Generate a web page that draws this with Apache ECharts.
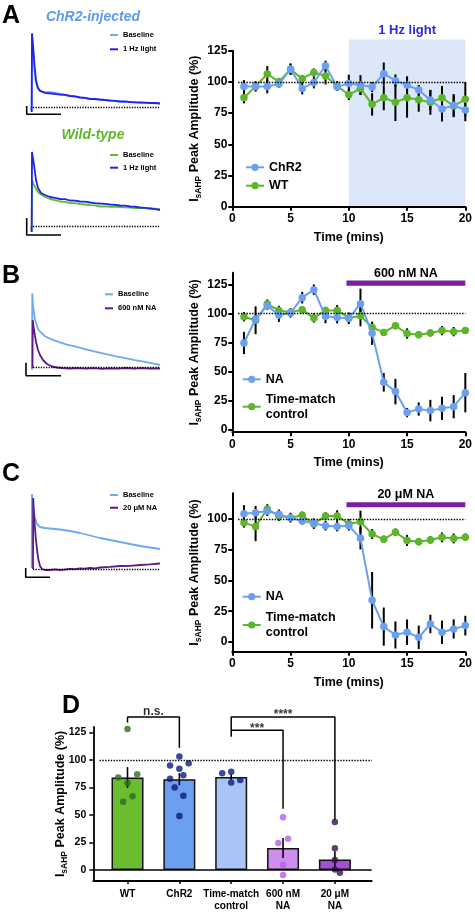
<!DOCTYPE html>
<html><head><meta charset="utf-8">
<script src="https://cdn.jsdelivr.net/npm/echarts@6/dist/echarts.min.js"></script>
<style>html,body{margin:0;padding:0;background:#fff}#c{width:475px;height:912px}</style>
</head><body><div id="c"></div>
<script>
// ================= DATA =================
const minutes = [1,2,3,4,5,6,7,8,9,10,11,12,13,14,15,16,17,18,19,20];
const xTicksTime = [0,5,10,15,20];
const yTicksTime = [0,25,50,75,100,125];
const yTicksC = [0,25,50,75,100];

// Panel A (1 Hz light)
const chr2Mean = [96.4,96.4,96.4,98.3,110.3,94.8,99.6,113,95.9,98.8,97.5,95.9,106.6,101,97.5,93.5,85.5,78.3,81.2,77.5];
const chr2Sem  = [5,4,5.5,3,4.5,4.8,4.8,4,3,7,8,4,9,5,7,4,8,10,9,9];
const wtMean   = [87.3,96.4,106.3,100.2,110,102.6,107.6,104.7,96.7,89.7,94.8,82,87.3,83.6,87.3,85.7,83.6,87.3,80.7,86];
const wtSem    = [4.5,4,6.4,3,4.5,3,3.2,6.7,4,4.3,5.3,9,10,15,16,9.6,10,9.4,9,14];

// Panel B (600 nM NA) and C (20 uM NA)
const na600Mean = [74.4,95.1,106.6,98.6,100.3,113.5,120.4,97.4,96.3,95.7,108.3,82.8,40.5,32.5,14.4,17.5,16.1,18.1,19.5,31.6];
const na600Sem  = [9.6,4,3.6,6,4,5,4.5,6,5,5,13,10,8,11,4,5.7,9.3,10,10,17];
const na20Mean  = [104.3,105.1,106.5,103.8,101.1,98.4,96.5,94.6,94,94.6,84.3,33.9,12.5,5.7,7.9,3.8,14.6,7.9,10.6,13.3];
const na20Sem   = [7,5.5,4,4,4,3,4,4,4,4,9,23,15.5,11,10.4,9.5,7.5,9.5,7.8,8];
const controlMean = [97,94,108,102.5,101,103,96,102.5,102.5,96,97.8,87.8,83.5,89.3,82.6,81.6,83,85.1,84.2,85.2];
const controlSem  = [4,12,4,4,3,3,4,3,4.6,4,9,4,3,3,4.5,3,3,4,4,3];

// Treatment periods [start, end, level]
const lightPeriod = [10, 20, 134];
const na600Period = [9.8, 20, 126];
const na20Period  = [9.8, 20, 111.6];

// Panel D summary
const groups = ['WT','ChR2','Time-match\ncontrol','600 nM\nNA','20 μM\nNA'];
const groupMeans = [84, 82.5, 84.5, 20, 9.5];
const groupSems  = [9.5, 5.5, 2.5, 9, 7.5];
const wtCells   = [128, 84, 87, 79, 62, 67];
const chr2Cells = [103, 95, 92, 97, 83, 86, 75, 67.5, 49];
const tmCells   = [88, 89.3, 79.5, 81.8];
const na600Cells= [48, 24.5, 28.4, 4.8, -4.5];
const na20Cells = [43.6, 19.7, 9, 0.5, -2.5, -10.5];
const yTicksD = [0,25,50,75,100,125];
// significance brackets (group index, % level)
const bracketNS   = [[0,134],[0,139],[1,139],[1,111]];
const bracket4    = [[2,121],[2,139],[4,139],[4,45.7]];
const bracket3    = [[2,127],[3,127],[3,55.6]];
const sigLabels   = [['n.s.',0.5,139],['****',3,139],['***',2.5,127]];

// Example traces (time in sweep units, current relative to baseline)
const tA1 = [-0.6,-0.3,0,1,2.5,4,6,8,10,13,16,20,24,28,33,38,43,48,53,58,63,68,73,78,83,88,93,98,103,108,113,118,123,128];
const a1Light    = [0,-4.7,74,62,42,27,19.5,16.5,15.5,14.5,14,13.8,13.2,12.8,12.4,11.3,10.9,9.8,9.4,8.3,8.5,7.8,7.3,6.8,6.4,5.8,5.9,5.3,5,4.8,4.6,4.3,4.4,3.8];
const a1Baseline = [0,-4.7,73,59,37,24,18,16,15.5,15,15.3,15,14.5,13.5,12.5,11.5,10.8,10,9.3,8.5,8,7.5,7.2,6.6,6.2,5.8,5.5,5.2,4.9,4.7,4.4,4.2,4,3.8];
const tA2 = [-0.6,-0.3,0,1,2,4,6,9,13,18,23,28,33,38,43,48,53,58,63,68,73,78,83,88,93,98,103,108,113,118,123,128];
const a2Light    = [0,-5.3,74.7,68,61.7,46.7,38.7,33.7,31.7,29.7,28.9,27.7,27.5,26.2,26,25.2,25,24.2,23.6,23.2,22.9,22.2,21.8,21.2,21,20.2,20,19.2,18.8,18.2,17.5,16.7];
const a2Baseline = [0,-5.3,46.7,44,41.7,37.7,34.7,32.2,29.7,27.7,26.5,25.2,24.8,23.7,23.5,22.7,22.2,21.5,21.3,20.2,20.4,19.8,20,19.7,19.3,19.1,18.7,18.9,18.5,18.4,18,17.6];
const tB = [0,0.3,1,3,6,8,13,18,23,28,35,43,53,63,73,83,93,103,113,123,128];
const bBaseline = [-2.3,74.4,62,48,39,36,31.5,29,27,25.3,23,21.3,18.5,16,13.8,11.5,9.5,7.6,5.8,3.8,2.7];
const tBna = [0.5,0.7,2,4,6,8,11,15,20,25,30,38,46,54,62,70,78,86,94,102,110,118,126,128];
const bNA = [-0.3,47.7,37.7,25.7,17.7,12.7,7.7,3.7,1.2,0.2,-0.3,-0.8,-0.4,-1,-0.5,-1.1,-0.6,-0.9,-0.3,-1,-0.5,-0.9,-0.6,-0.8];
const tC = [-0.3,0,1,3,5,8,13,18,28,38,48,58,68,78,88,98,108,118,128];
const cBaseline = [1,75,64,51,45,42,41,40.5,39.5,38,36,33.5,31,29,27,25,23,21.5,20];
const tCna = [1,1.2,2,3.5,5,6.5,8,10,13,18,23,28,33,38,43,48,53,58,63,68,78,88,98,108,118,128];
const cNA = [0,71,54,34,19,9,3,0,-1,-1,-0.3,-1,-0.5,0.2,-0.2,0.5,0.3,1,0.6,1.5,2.2,3,3.2,4,4.6,5.5];
// scale bars (trace units)
const scaleA1 = [[29,-7],[-5.3,-7],[-5.3,1.3]];
const scaleA2 = [[29,-8.3],[-5.3,-8.3],[-5.3,8.7]];
const scaleB  = [[29,-8],[-6,-8],[-6,5]];
const scaleC  = [[18,-8.3],[-6.3,-8.3],[-6.3,1]];

// ================= STYLE / LAYOUT =================
const F = 'Liberation Sans, Arial, Helvetica, sans-serif';
const C_BLUE = '#6b9ff2', C_GREEN = '#5db52a';
const C_TR_LIGHT = '#6ea8f7', C_TR_DARK = '#2222ee', C_TR_GREEN = '#5fbd2c', C_TR_PURPLE = '#5a1a8c';
const C_PBAR = '#7b1fa2', C_SHADE = '#dce8fa';
const barColors = ['#6cbd2e','#6b9ff0','#a8c5f5','#d08df0','#a24fd4'];
const dotColors = ['#2f6b1f','#0b1a80','#0b1a80','#b45fe6','#3a0f50'];
const jitter = [[0,-9.3,9.7,0,-4.3,5],[0,-9.3,0,9.3,-9.3,4,-4.7,4,0],[-9,0,0,9],[0,-4.7,5,0,0],[0,0,0,0,5,-4.3]];

const zip = (t, v) => t.map((x, i) => [x, v[i]]);

const grids = [
  {left:24, top:28.3, width:140, height:88},
  {left:24, top:147.7, width:140, height:89},
  {left:24, top:288.7, width:140, height:89},
  {left:24, top:490, width:140, height:89},
  {left:232.3, top:50.7, width:235, height:156},
  {left:232.3, top:272.7, width:235, height:159.5},
  {left:232.3, top:493.2, width:235, height:158.6},
  {left:93.3, top:726.9, width:278.4, height:156.3}
];

const hiddenAxis = (gi, min, max) => ({gridIndex:gi, type:'value', min, max, show:false, splitLine:{show:false}});
const traceY = [[-9,79],[-10,79],[-10,79],[-10,79]];

const boldTxt = (size) => ({fontFamily:F, fontSize:size, fontWeight:'bold', color:'#000'});
const yName = 'I{s|sAHP} Peak Amplitude (%)';
const yNameStyle = (size, sub) => Object.assign(boldTxt(size), {lineHeight:18, rich:{s:Object.assign(boldTxt(sub), {lineHeight:9, verticalAlign:'bottom'})}});

function timeX(gi) {
  return {gridIndex:gi, type:'value', min:0, max:20, interval:5,
    axisLine:{onZero:false, lineStyle:{color:'#000', width:2}},
    axisTick:{length:4, lineStyle:{color:'#000', width:2}},
    axisLabel:Object.assign({margin:6}, boldTxt(12)),
    splitLine:{show:false},
    name:'Time (mins)', nameLocation:'middle', nameGap:24, nameTextStyle:boldTxt(12.5)};
}
function timeY(gi, min, max, ticks) {
  return {gridIndex:gi, type:'value', min, max,
    axisLine:{show:true, onZero:false, lineStyle:{color:'#000', width:2}},
    axisTick:{show:true, customValues:ticks, length:4, lineStyle:{color:'#000', width:2}},
    axisLabel:Object.assign({customValues:ticks, margin:5}, boldTxt(12)),
    splitLine:{show:false},
    name:yName, nameLocation:'middle', nameGap:25, nameTextStyle:yNameStyle(12.5, 8.5)};
}

const xAxes = [hiddenAxis(0,-8,132), hiddenAxis(1,-8,132), hiddenAxis(2,-8,132), hiddenAxis(3,-8,132),
  timeX(4), timeX(5), timeX(6),
  {gridIndex:7, type:'value', min:-0.66, max:4.71,
    axisLine:{onZero:false, lineStyle:{color:'#000', width:1.8}},
    axisTick:{show:true, customValues:[0,1,2,3,4], length:3, lineStyle:{color:'#000', width:1.5}},
    axisLabel:Object.assign({customValues:[0,1,2,3,4], margin:7, lineHeight:12,
      formatter:(v)=>groups[Math.round(v)]}, boldTxt(10)),
    splitLine:{show:false}}];
const yAxes = traceY.map((r,i)=>hiddenAxis(i, r[0], r[1])).concat([
  timeY(4, 0, 125, yTicksTime), timeY(5, -2.5, 135, yTicksTime), timeY(6, -8, 121, yTicksC),
  {gridIndex:7, type:'value', min:-10, max:130,
    axisLine:{show:true, onZero:false, lineStyle:{color:'#000', width:1.8}},
    axisTick:{show:true, customValues:yTicksD, length:4, lineStyle:{color:'#000', width:1.5}},
    axisLabel:Object.assign({customValues:yTicksD, margin:7}, boldTxt(10.5)),
    splitLine:{show:false},
    name:yName, nameLocation:'middle', nameGap:24, nameMoveOverlap:false, nameTextStyle:yNameStyle(12.5, 8.5)}
]);

const series = [];
function trace(name, t, v, color, gi, z) {
  series.push({type:'line', name, xAxisIndex:gi, yAxisIndex:gi, data:zip(t,v), symbol:'none', showSymbol:false,
    lineStyle:{color, width:1.8}, itemStyle:{color}, z, silent:true});
}
function scaleBar(gi, pts) {
  series.push({type:'line', xAxisIndex:gi, yAxisIndex:gi, data:pts, symbol:'none',
    lineStyle:{color:'#000', width:1.6}, itemStyle:{color:'#000'}, silent:true, z:1,
    markLine:{symbol:'none', silent:true, label:{show:false}, lineStyle:{type:'dotted', color:'#000', width:1.3},
      data:[[{coord:[1,0]},{coord:[128,0]}]]}});
}
// traces
scaleBar(0, scaleA1); trace('Baseline', tA1, a1Baseline, C_TR_LIGHT, 0, 2); trace('1 Hz light', tA1, a1Light, C_TR_DARK, 0, 3);
scaleBar(1, scaleA2); trace('Baseline', tA2, a2Baseline, C_TR_GREEN, 1, 2); trace('1 Hz light', tA2, a2Light, C_TR_DARK, 1, 3);
scaleBar(2, scaleB);  trace('Baseline', tB, bBaseline, C_TR_LIGHT, 2, 2); trace('600 nM NA', tBna, bNA, C_TR_PURPLE, 2, 3);
scaleBar(3, scaleC);  trace('Baseline', tC, cBaseline, C_TR_LIGHT, 3, 2); trace('20 μM NA', tCna, cNA, C_TR_PURPLE, 3, 3);

// time-course helpers
function errSeries(gi, mean, sem, z, withRef) {
  const s = {type:'custom', xAxisIndex:gi, yAxisIndex:gi, silent:true, z,
    data: minutes.map((m,i)=>[m, mean[i]-sem[i], mean[i]+sem[i]]),
    renderItem:(p, api)=>{
      const a = api.coord([api.value(0), api.value(1)]), b = api.coord([api.value(0), api.value(2)]);
      return {type:'line', shape:{x1:a[0], y1:a[1], x2:b[0], y2:b[1]}, style:{stroke:'#000', lineWidth:2}};
    }};
  if (withRef) s.markLine = {symbol:'none', silent:true, label:{show:false}, lineStyle:{type:'dotted', color:'#000', width:1.4},
    data:[[{coord:[0.5,100]},{coord:[20,100]}]]};
  series.push(s);
}
function meanSeries(gi, name, mean, color, z) {
  series.push({type:'line', name, xAxisIndex:gi, yAxisIndex:gi, data:zip(minutes, mean), symbol:'circle', symbolSize:7.5,
    lineStyle:{color, width:2}, itemStyle:{color}, z, silent:true});
}
function periodSeries(gi, period, label, kind) {
  series.push({type:'custom', xAxisIndex:gi, yAxisIndex:gi, silent:true, z: kind==='shade' ? 0 : 5,
    data:[period],
    renderItem:(p, api)=>{
      const x1 = api.value(0), x2 = api.value(1), y = api.value(2);
      const a = api.coord([x1, y]), b = api.coord([x2, y]);
      if (kind === 'shade') {
        const z0 = api.coord([x1, 0]);
        return {type:'group', children:[
          {type:'rect', shape:{x:a[0], y:a[1], width:b[0]-a[0], height:z0[1]-a[1]}, style:{fill:C_SHADE}},
          {type:'text', style:{text:label, x:(a[0]+b[0])/2, y:a[1]-9, align:'center', verticalAlign:'middle',
            textAlign:'center', textVerticalAlign:'middle', font:'bold 13px ' + F, fill:'#2a2ae0'}}]};
      }
      return {type:'group', children:[
        {type:'rect', shape:{x:a[0], y:a[1]-2.6, width:b[0]-a[0], height:5.2}, style:{fill:C_PBAR}},
        {type:'text', style:{text:label, x:(a[0]+b[0])/2, y:a[1]-10, align:'center', verticalAlign:'middle',
          textAlign:'center', textVerticalAlign:'middle', font:'bold 12.5px ' + F, fill:'#000'}}]};
    }});
}
// A
periodSeries(4, lightPeriod, '1 Hz light', 'shade');
errSeries(4, wtMean, wtSem, 1, true); errSeries(4, chr2Mean, chr2Sem, 1, false);
meanSeries(4, 'WT', wtMean, C_GREEN, 3); meanSeries(4, 'ChR2', chr2Mean, C_BLUE, 4);
// B
periodSeries(5, na600Period, '600 nM NA', 'bar');
errSeries(5, controlMean, controlSem, 1, true); errSeries(5, na600Mean, na600Sem, 1, false);
meanSeries(5, 'Time-match control', controlMean, C_GREEN, 3); meanSeries(5, 'NA', na600Mean, C_BLUE, 4);
// C
periodSeries(6, na20Period, '20 μM NA', 'bar');
errSeries(6, controlMean, controlSem, 1, true); errSeries(6, na20Mean, na20Sem, 1, false);
meanSeries(6, 'Time-match control', controlMean, C_GREEN, 3); meanSeries(6, 'NA', na20Mean, C_BLUE, 4);

// D
series.push({type:'bar', xAxisIndex:7, yAxisIndex:7, barWidth:32, silent:true, z:2,
  data: groupMeans.map((m,i)=>({value:[i,m], itemStyle:{color:barColors[i]}})),
  itemStyle:{borderColor:'#111', borderWidth:1.5},
  markLine:{symbol:'none', silent:true, label:{show:false},
    data:[
      [{coord:[-0.66,0], lineStyle:{type:'solid', width:1.5, color:'#000'}},{coord:[4.71,0]}],
      [{coord:[-0.54,100], lineStyle:{type:'dotted', width:1.4, color:'#000'}},{coord:[4.71,100]}]
    ]}});
series.push({type:'custom', xAxisIndex:7, yAxisIndex:7, silent:true, z:3,
  data: groupMeans.map((m,i)=>[i, m-groupSems[i], m+groupSems[i]]),
  renderItem:(p, api)=>{
    const a = api.coord([api.value(0), api.value(1)]), b = api.coord([api.value(0), api.value(2)]);
    return {type:'line', shape:{x1:a[0], y1:a[1], x2:b[0], y2:b[1]}, style:{stroke:'#000', lineWidth:1.6}};
  }});
[wtCells, chr2Cells, tmCells, na600Cells, na20Cells].forEach((cells, gi)=>{
  series.push({type:'scatter', xAxisIndex:7, yAxisIndex:7, silent:true, z:4, symbolSize:6.5,
    itemStyle:{color:dotColors[gi]},
    data: cells.map((v,k)=>({value:[gi, v], symbolOffset:[jitter[gi][k], 0]}))});
});
[bracketNS, bracket4, bracket3].forEach(b=>{
  series.push({type:'line', xAxisIndex:7, yAxisIndex:7, data:b, symbol:'none', clip:false, silent:true, z:5,
    lineStyle:{color:'#000', width:1.5}});
});
series.push({type:'scatter', xAxisIndex:7, yAxisIndex:7, symbolSize:0, clip:false, silent:true, z:6,
  data: sigLabels.map(s=>({value:[s[1], s[2]], name:s[0],
    label:{offset:[0, s[0]==='n.s.' ? 1 : 4]}})),
  label:{show:true, position:'top', distance:0, formatter:(p)=>p.name, fontFamily:F, fontSize:12, fontWeight:'bold', color:'#000'}});

// legends
const legTxt = (size, lh) => Object.assign(boldTxt(size), {lineHeight:lh});
const legends = [
  {left:110, top:30.5, itemGap:5.3, data:[{name:'Baseline', itemStyle:{color:C_TR_LIGHT}}, {name:'1 Hz light', itemStyle:{color:C_TR_DARK}}]},
  {left:110, top:150.5, itemGap:3.7, data:[{name:'Baseline', itemStyle:{color:C_TR_GREEN}}, {name:'1 Hz light', itemStyle:{color:C_TR_DARK}}]},
  {left:105, top:289.8, itemGap:5, data:[{name:'Baseline', itemStyle:{color:C_TR_LIGHT}}, {name:'600 nM NA', itemStyle:{color:C_TR_PURPLE}}]},
  {left:110, top:490.5, itemGap:3.7, data:[{name:'Baseline', itemStyle:{color:C_TR_LIGHT}}, {name:'20 μM NA', itemStyle:{color:C_TR_PURPLE}}]}
].map(l=>Object.assign({orient:'vertical', padding:0, itemWidth:8, itemHeight:2, icon:'rect', selectedMode:false,
  textStyle:legTxt(7.5, 9)}, l));
[
  {left:245, top:159.8, itemGap:3.4, data:['ChR2','WT']},
  {left:241.7, top:371.8, itemGap:4.9, data:['NA','Time-match control']},
  {left:241.7, top:589.2, itemGap:5.8, data:['NA','Time-match control']}
].forEach(l=>legends.push(Object.assign({orient:'vertical', padding:0, itemWidth:18, itemHeight:9, selectedMode:false,
  textStyle:legTxt(12.5, 15), formatter:(n)=> n==='Time-match control' ? 'Time-match\ncontrol' : n}, l)));

const gtext = (text, x, y, font, fill, align) => ({type:'text', silent:true,
  style:{text, x, y, font, fill, align:align||'left', verticalAlign:'middle', textAlign:align||'left', textVerticalAlign:'middle'}});

const option = {
  animation:false,
  backgroundColor:'#fff',
  grid:grids,
  xAxis:xAxes,
  yAxis:yAxes,
  legend:legends,
  series:series,
  graphic:[
    gtext('A', 2, 16, 'bold 25px ' + F, '#000'),
    gtext('B', 2, 276, 'bold 25px ' + F, '#000'),
    gtext('C', 2, 474, 'bold 25px ' + F, '#000'),
    gtext('D', 62, 706, 'bold 25px ' + F, '#000'),
    gtext('ChR2-injected', 93, 17, 'italic bold 14px ' + F, '#5b9bf5', 'center'),
    gtext('Wild-type', 93, 135, 'italic bold 14px ' + F, '#5cb82a', 'center')
  ]
};
const chart = echarts.init(document.getElementById('c'), null, {renderer:'canvas'});
chart.setOption(option);
</script></body></html>
